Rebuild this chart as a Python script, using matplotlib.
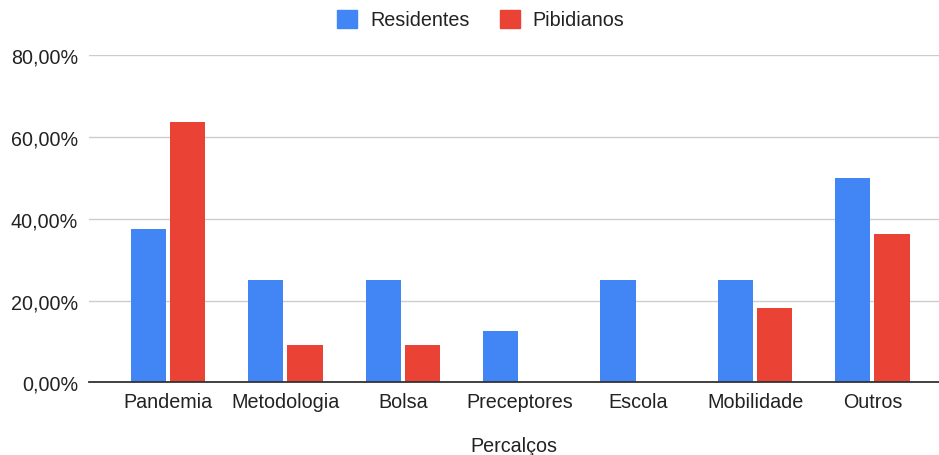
import numpy as np
import matplotlib.pyplot as plt
from matplotlib.patches import Patch
from matplotlib.ticker import FuncFormatter

plt.rcParams['font.family'] = ['Liberation Sans', 'DejaVu Sans']

# data
categorias = ['Pandemia', 'Metodologia', 'Bolsa', 'Preceptores', 'Escola', 'Mobilidade', 'Outros']
residentes = [37.5, 25.0, 25.0, 12.5, 25.0, 25.0, 50.0]
pibidianos = [63.64, 9.09, 9.09, 0.0, 0.0, 18.18, 36.36]

azul = '#4285F4'
vermelho = '#EA4335'
fs = 14.2

fig = plt.figure(figsize=(9.39, 4.56), dpi=100)
ax = fig.add_axes([0.0948, 0.1590, 0.9052, 0.7171])

x = np.arange(len(categorias))
w = 0.30
gap = 0.017
ax.bar(x - w / 2 - gap, residentes, w, color=azul, zorder=3)
ax.bar(x + w / 2 + gap, pibidianos, w, color=vermelho, zorder=3)

ax.set_xlim(-0.673, 6.567)
ax.set_ylim(0, 80)
ax.set_yticks([0, 20, 40, 60, 80])
ax.yaxis.set_major_formatter(FuncFormatter(lambda v, p: f'{v:.2f}%'.replace('.', ',')))
ax.grid(axis='y', color='#cccccc', lw=1, zorder=0)
ax.set_xticks(x)
ax.set_xticklabels(categorias)
ax.tick_params(axis='both', length=0, labelsize=fs, colors='#222222')
ax.tick_params(axis='x', pad=7)
ax.tick_params(axis='y', pad=8)
for s in ['top', 'right', 'left']:
    ax.spines[s].set_visible(False)
ax.spines['bottom'].set_color('#333333')
ax.spines['bottom'].set_linewidth(1.3)
ax.spines['bottom'].set_zorder(4)
ax.set_xlabel('Percalços', fontsize=fs, color='#222222', labelpad=17.5)

handles = [Patch(color=azul, label='Residentes'), Patch(color=vermelho, label='Pibidianos')]
fig.legend(handles=handles, loc='upper center', bbox_to_anchor=(0.512, 1.015), ncol=2,
           frameon=False, fontsize=fs, handlelength=1.0, handleheight=1.0,
           columnspacing=1.55, handletextpad=0.67, labelcolor='#222222')

fig.savefig('out.png', dpi=100)
